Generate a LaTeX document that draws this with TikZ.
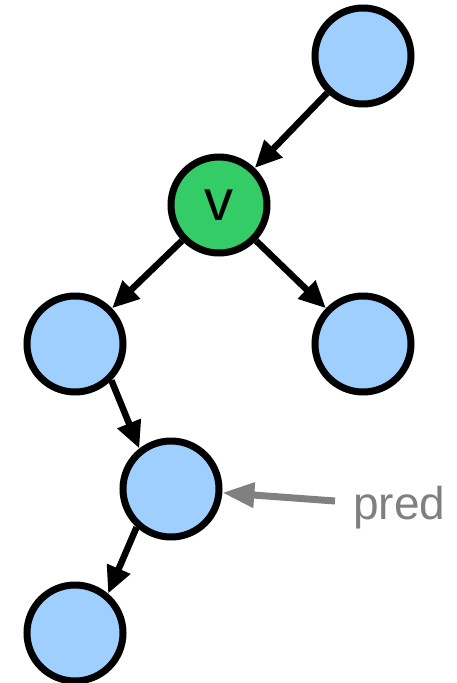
\documentclass[tikz,border=0pt]{standalone}
\usepackage{fontspec}
\setmainfont{Liberation Sans}
\usetikzlibrary{arrows.meta}
\definecolor{nodeblue}{HTML}{9FCFFF}
\definecolor{nodegreen}{HTML}{33CC66}
\definecolor{predgray}{HTML}{808080}
\begin{document}
\begin{tikzpicture}[x=1pt,y=-1pt,
  vert/.style={circle, draw=black, line width=7pt, fill=nodeblue, minimum size=96pt, inner sep=0pt},
  cur/.style={vert, fill=nodegreen},
  edge/.style={line width=6.5pt, -{Triangle[length=27pt,width=24pt]}},
  predarrow/.style={line width=7pt, draw=predgray, -{Triangle[length=32pt,width=24pt]}, color=predgray}]
\useasboundingbox (0,0) rectangle (457,683);
\node[vert] (A) at (363,56) {};
\node[cur] (V) at (219,205) {\fontsize{58}{60}\selectfont v};
\node[vert] (L) at (75,344) {};
\node[vert] (R) at (363,344) {};
\node[vert] (P) at (171,489) {};
\node[vert] (B) at (75,633) {};
\draw[edge] (A) -- (V);
\draw[edge] (V) -- (L);
\draw[edge] (V) -- (R);
\draw[edge] (L.-45) -- (P.128);
\draw[edge] (P.-132) -- (B.50);
\node[anchor=base west, inner sep=0pt, text=predgray, font=\fontsize{46}{50}\selectfont] (predlabel) at (353,519) {pred};
\coordinate (ps) at (335,501);
\draw[predarrow] (ps) -- (P);
\end{tikzpicture}
\end{document}
